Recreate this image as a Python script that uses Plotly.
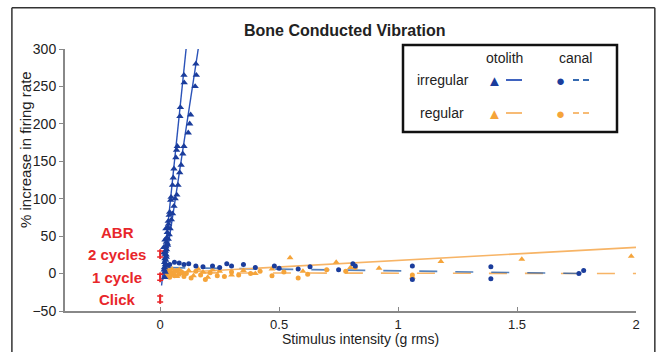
import plotly.graph_objects as go

BLUE = "#1b3d9c"
BLUE_LINE = "#2a52b8"
BLUE_DASH = "#1f5aa8"
ORANGE = "#f5a43a"
ORANGE_LINE = "#f7b466"
RED = "#e8262a"

# irregular otolith (blue triangles)
irr_oto_x = [0.100,0.101,0.150,0.152,0.147,0.085,0.083,0.128,0.124,0.118,0.072,0.069,0.066,0.100,0.095,
             0.058,0.055,0.052,0.088,0.082,0.046,0.044,0.075,0.070,0.040,0.038,0.063,0.058,0.034,0.032,
             0.052,0.047,0.030,0.028,0.042,0.038,0.026,0.024,0.034,0.030,0.022,0.021,0.027,0.025,0.020,
             0.019,0.022,0.018,0.017,0.016,0.015,0.020,0.024,0.028,0.023,0.026,0.031,0.019,0.021,0.035]
irr_oto_y = [265,255,280,265,250,222,210,212,200,188,170,165,155,170,160,
             140,128,118,145,135,102,98,118,105,82,78,100,90,70,62,
             80,72,55,48,60,52,42,36,46,40,30,26,32,25,20,
             15,12,8,5,28,35,45,60,10,18,22,38,-5,2,66]
# two fitted lines for irregular otolith
irr_oto_fit1_x = [0.006, 0.109]
irr_oto_fit1_y = [-16, 300]
irr_oto_fit2_x = [0.012, 0.160]
irr_oto_fit2_y = [-8, 300]

# irregular canal (blue circles)
irr_can_x = [0.04,0.06,0.08,0.10,0.12,0.15,0.18,0.22,0.25,0.28,0.30,0.35,0.40,0.48,0.50,0.58,0.63,0.75,0.81,0.82,1.06,1.06,1.39,1.39,1.76,1.78]
irr_can_y = [12,15,14,12,13,10,9,10,8,13,10,12,8,10,7,6,9,5,13,10,10,-8,9,-7,0,4]
irr_can_fit_x = [0.03, 1.80]
irr_can_fit_y = [8, 0]

# regular otolith (orange triangles)
reg_oto_x = [0.02,0.025,0.03,0.035,0.04,0.045,0.05,0.055,0.06,0.07,0.08,0.09,0.10,0.12,0.14,0.16,0.18,0.20,
             0.22,0.25,0.30,0.35,0.40,0.47,0.546,0.60,0.74,0.80,0.92,1.06,1.18,1.52,1.98]
reg_oto_y = [2,-3,5,0,4,-2,6,1,3,-4,5,2,0,4,-3,6,2,-5,5,3,-2,4,0,6,21,3,15,8,7,-5,16,19,23]
reg_oto_fit_x = [0.0, 2.0]
reg_oto_fit_y = [0, 35]

# regular canal (orange circles)
reg_can_x = [0.02,0.03,0.04,0.05,0.06,0.07,0.08,0.09,0.10,0.11,0.13,0.15,0.17,0.19,0.21,0.24,0.27,0.30,0.33,
             0.38,0.42,0.47,0.52,0.58,0.62,0.70,0.78,0.82,1.06]
reg_can_y = [-2,3,-5,1,-3,4,-1,2,-4,0,-6,3,-2,-8,1,-3,-4,2,-2,0,3,-3,2,-6,-1,5,3,8,-2]
reg_can_fit_x = [0.02, 2.0]
reg_can_fit_y = [1, 0]

# ABR thresholds
abr_labels = ["2 cycles", "1 cycle", "Click"]
abr_y = [26, -5, -34]

x_ticks = [0, 0.5, 1, 1.5, 2]
x_ticklabels = ["0", "0.5", "1", "1.5", "2"]
y_ticks = [-50, 0, 50, 100, 150, 200, 250, 300]

fig = go.Figure()

fig.add_trace(go.Scatter(x=reg_can_fit_x, y=reg_can_fit_y, mode="lines",
                         line=dict(color=ORANGE_LINE, width=1.6, dash="18px,18px")))
fig.add_trace(go.Scatter(x=irr_can_fit_x, y=irr_can_fit_y, mode="lines",
                         line=dict(color=BLUE_DASH, width=1.6, dash="18px,18px"), opacity=0.75))
fig.add_trace(go.Scatter(x=reg_oto_fit_x, y=reg_oto_fit_y, mode="lines",
                         line=dict(color=ORANGE_LINE, width=1.6)))
fig.add_trace(go.Scatter(x=reg_can_x, y=reg_can_y, mode="markers",
                         marker=dict(symbol="circle", size=5, color=ORANGE)))
fig.add_trace(go.Scatter(x=reg_oto_x, y=reg_oto_y, mode="markers",
                         marker=dict(symbol="triangle-up", size=6, color=ORANGE)))
fig.add_trace(go.Scatter(x=irr_can_x, y=irr_can_y, mode="markers",
                         marker=dict(symbol="circle", size=5, color=BLUE)))
fig.add_trace(go.Scatter(x=irr_oto_fit1_x, y=irr_oto_fit1_y, mode="lines",
                         line=dict(color=BLUE_LINE, width=1.4)))
fig.add_trace(go.Scatter(x=irr_oto_fit2_x, y=irr_oto_fit2_y, mode="lines",
                         line=dict(color=BLUE_LINE, width=1.4)))
fig.add_trace(go.Scatter(x=irr_oto_x, y=irr_oto_y, mode="markers",
                         marker=dict(symbol="triangle-up", size=6.5, color=BLUE)))

# ABR markers (small red error-bar style marks)
fig.add_trace(go.Scatter(x=[0]*len(abr_y), y=abr_y, mode="markers",
                         marker=dict(symbol="line-ns", size=7, line=dict(color=RED, width=2)),
                         error_y=dict(type="constant", value=4, color=RED, thickness=1.5, width=3)))

lab_font = dict(color=RED, size=15, family="Liberation Sans, Arial")
for lab, yv in zip(abr_labels, abr_y):
    fig.add_annotation(x=-0.18, y=yv, xref="x", yref="y", text="<b>%s</b>" % lab, showarrow=False,
                       xanchor="center", yanchor="middle", font=lab_font)
fig.add_annotation(x=-0.18, y=55, xref="x", yref="y", text="<b>ABR</b>", showarrow=False,
                   xanchor="center", yanchor="middle", font=lab_font)

# Title & axis titles
fig.add_annotation(x=0.49, y=1.07, xref="paper", yref="paper", text="<b>Bone Conducted Vibration</b>",
                   showarrow=False, xanchor="center", yanchor="middle", font=dict(size=16, color="#222"))
fig.add_annotation(x=0.517, y=-0.108, xref="paper", yref="paper", text="Stimulus intensity (g rms)",
                   showarrow=False, xanchor="center", yanchor="middle", font=dict(size=14, color="#222"))
fig.add_annotation(x=-0.068, y=0.615, xref="paper", yref="paper", text="% increase in firing rate",
                   textangle=-90, showarrow=False, xanchor="center", yanchor="middle",
                   font=dict(size=15, color="#222"))

# Outer frame
frame = dict(color="#333", width=1.5)
fig.add_shape(type="line", xref="paper", yref="paper", x0=-0.093, x1=-0.093, y0=-0.2, y1=1.157, line=frame)
fig.add_shape(type="line", xref="paper", yref="paper", x0=-0.093, x1=1.033, y0=1.157, y1=1.157, line=frame)
fig.add_shape(type="line", xref="paper", yref="paper", x0=1.033, x1=1.033, y0=-0.2, y1=1.157, line=frame)

# Legend box
def px(xp):
    return (xp - 65) / 571.0
def py(yp):
    return (311 - yp) / 262.0

fig.add_shape(type="rect", xref="paper", yref="paper", x0=px(403), x1=px(617), y0=py(132), y1=py(45),
              line=dict(color="#111", width=2.5), fillcolor="white")
lf = dict(size=14, color="#222")
for (cx, cy, t) in [(504, 58, "otolith"), (575, 58, "canal"), (443, 80, "irregular"), (442, 113, "regular")]:
    fig.add_annotation(x=px(cx), y=py(cy), xref="paper", yref="paper", text=t, showarrow=False,
                       xanchor="center", yanchor="middle", font=lf)
for (cx, cy, sym, col, sz) in [(494, 80, "▲", BLUE, 15), (560, 80, "●", BLUE, 15),
                               (494, 113, "▲", ORANGE, 15), (560, 113, "●", ORANGE, 15)]:
    fig.add_annotation(x=px(cx), y=py(cy), xref="paper", yref="paper", text=sym, showarrow=False,
                       xanchor="center", yanchor="middle", font=dict(size=sz, color=col))
fig.add_shape(type="line", xref="paper", yref="paper", x0=px(506), x1=px(522), y0=py(80), y1=py(80),
              line=dict(color=BLUE_LINE, width=1.8))
fig.add_shape(type="line", xref="paper", yref="paper", x0=px(506), x1=px(522), y0=py(113), y1=py(113),
              line=dict(color=ORANGE_LINE, width=1.8))
for (y0, col) in [(80, BLUE_DASH), (113, ORANGE_LINE)]:
    for (a, b) in [(573, 579), (583, 589)]:
        fig.add_shape(type="line", xref="paper", yref="paper", x0=px(a), x1=px(b), y0=py(y0), y1=py(y0),
                      line=dict(color=col, width=1.8))

fig.update_layout(
    width=662, height=352,
    margin=dict(l=65, r=26, t=49, b=41),
    paper_bgcolor="white", plot_bgcolor="white",
    showlegend=False,
    font=dict(family="Liberation Sans, Arial, sans-serif", size=13, color="#222"),
    xaxis=dict(range=[-0.4, 2.0], tickvals=x_ticks, ticktext=x_ticklabels, showgrid=False, zeroline=False,
               showline=True, linecolor="#888", linewidth=2, ticks="inside", ticklen=4, tickcolor="#888",
               tickfont=dict(size=13)),
    yaxis=dict(range=[-50, 300], tickvals=y_ticks, showgrid=False, zeroline=False,
               showline=True, linecolor="#888", linewidth=2, ticks="outside", ticklen=4, tickcolor="#888",
               tickfont=dict(size=14)),
)

fig.write_html("out.html")
